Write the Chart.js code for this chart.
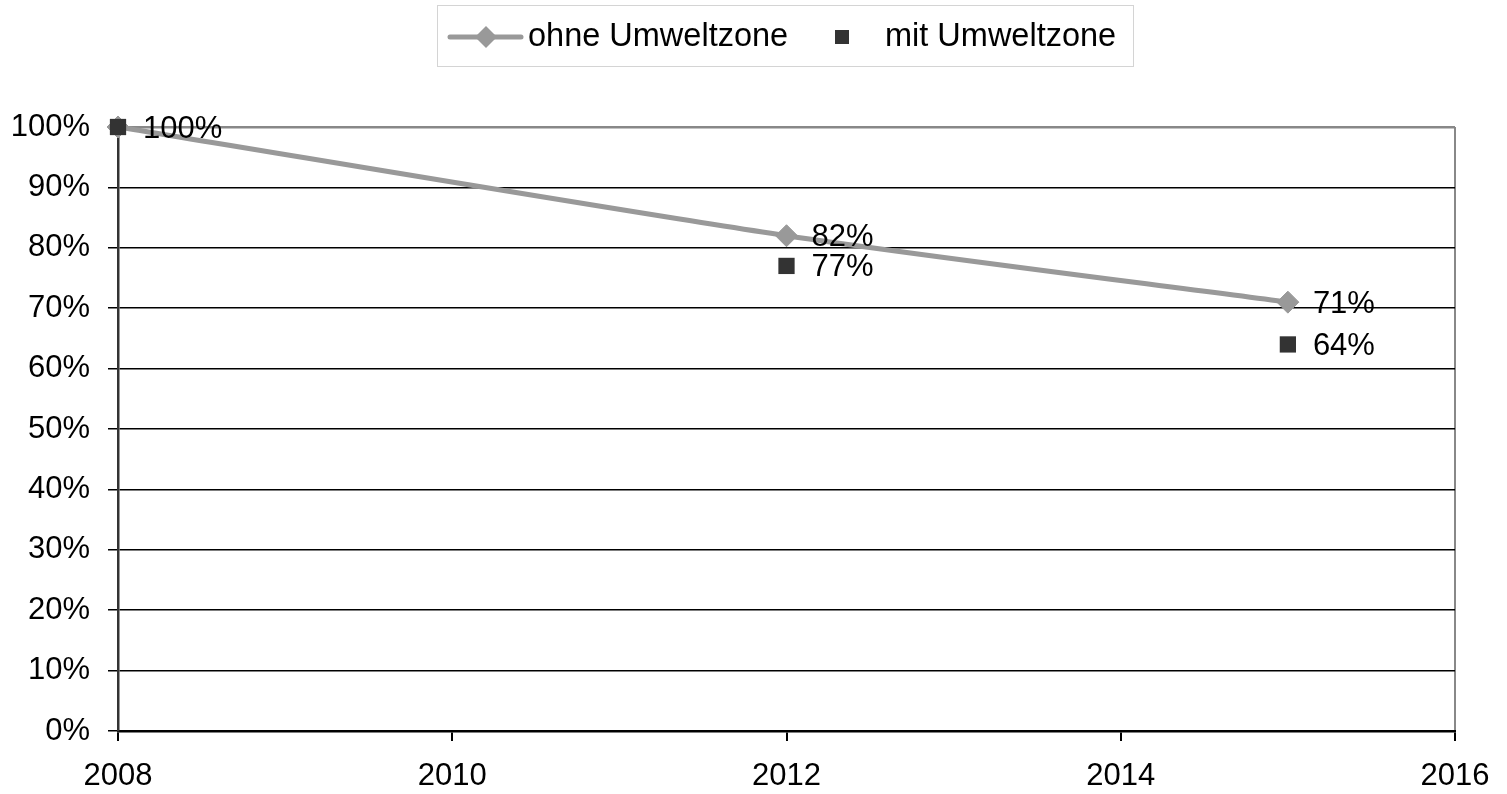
<!DOCTYPE html>
<html>
<head>
<meta charset="utf-8">
<script src="https://cdn.jsdelivr.net/npm/chart.js@4"></script>
<style>
  html, body { margin: 0; padding: 0; background: #fff; }
  #wrap { position: relative; width: 1507px; height: 794px; }
  #legend {
    position: absolute; left: 437px; top: 5px; width: 695px; height: 60px;
    border: 1.5px solid #d4d4d4; font-family: "Liberation Sans", Arial, sans-serif;
    font-size: 32.5px; color: #000;
  }
  #legend svg { position: absolute; top: 0; left: 0; }
  #legend span { position: absolute; top: 11px; white-space: nowrap; }
</style>
</head>
<body>
<div id="wrap">
  <canvas id="chart" width="1507" height="794"></canvas>
  <div id="legend">
    <svg width="695" height="60">
      <line x1="12" y1="31" x2="83" y2="31" stroke="#999" stroke-width="5" stroke-linecap="round"/>
      <polygon points="48,20 59,31 48,42 37,31" fill="#999"/>
      <rect x="397" y="24" width="14" height="14" fill="#333"/>
    </svg>
    <span style="left:90px">ohne Umweltzone</span>
    <span style="left:447px">mit Umweltzone</span>
  </div>
</div>
<script>
// data
const years = [2008, 2012, 2015];
const ohneUmweltzone = [100, 82, 71];
const mitUmweltzone = [100, 77, 64];
const xTicks = [2008, 2010, 2012, 2014, 2016];
const yTicks = [0, 10, 20, 30, 40, 50, 60, 70, 80, 90, 100];

const FONT = '"Liberation Sans", Arial, sans-serif';

// value labels right of each point
const pointLabels = {
  id: 'pointLabels',
  afterDatasetsDraw(chart) {
    const ctx = chart.ctx;
    const done = {};
    ctx.save();
    ctx.font = '31px ' + FONT;
    ctx.fillStyle = '#000';
    ctx.textAlign = 'left';
    ctx.textBaseline = 'middle';
    chart.data.datasets.forEach((ds, i) => {
      chart.getDatasetMeta(i).data.forEach((pt, j) => {
        const key = Math.round(pt.x) + '_' + Math.round(pt.y);
        if (done[key]) return;
        done[key] = true;
        ctx.fillText(ds.data[j].y + '%', pt.x + 25, pt.y + 2);
      });
    });
    ctx.restore();
  }
};

new Chart(document.getElementById('chart'), {
  type: 'scatter',
  data: {
    datasets: [
      {
        label: 'ohne Umweltzone',
        data: years.map((x, i) => ({ x: x, y: ohneUmweltzone[i] })),
        order: 2,
        showLine: true,
        clip: false,
        borderColor: '#999',
        borderWidth: 5,
        tension: 0.25,
        pointStyle: 'rectRot',
        pointRadius: 11,
        pointBackgroundColor: '#999',
        pointBorderColor: '#999',
        pointBorderWidth: 1
      },
      {
        label: 'mit Umweltzone',
        data: years.map((x, i) => ({ x: x, y: mitUmweltzone[i] })),
        order: 1,
        showLine: false,
        clip: false,
        pointStyle: 'rect',
        pointRadius: 11.5,
        pointBackgroundColor: '#333',
        pointBorderColor: '#333',
        pointBorderWidth: 0
      }
    ]
  },
  options: {
    responsive: false,
    animation: false,
    layout: { padding: { top: 127, right: 52, left: 0, bottom: 0 } },
    plugins: {
      legend: { display: false },
      tooltip: { enabled: false }
    },
    scales: {
      x: {
        type: 'linear',
        min: 2008,
        max: 2016,
        afterFit: (s) => { s.height = 63; },
        afterBuildTicks: (s) => { s.ticks = xTicks.map(v => ({ value: v })); },
        border: { color: '#000', width: 2.5 },
        grid: {
          drawOnChartArea: true,
          color: (c) => (c.tick && c.tick.value === 2016 ? '#888' : 'rgba(0,0,0,0)'),
          lineWidth: 2,
          tickColor: '#000',
          tickLength: 10
        },
        ticks: {
          color: '#000',
          font: { family: FONT, size: 31 },
          padding: 17,
          maxRotation: 0,
          callback: (v) => String(v)
        }
      },
      y: {
        min: 0,
        max: 100,
        afterFit: (s) => { s.width = 118; },
        afterBuildTicks: (s) => { s.ticks = yTicks.map(v => ({ value: v })); },
        border: { color: '#333', width: 2.5 },
        grid: {
          color: (c) => (c.tick && c.tick.value === 100 ? '#888' : '#000'),
          lineWidth: (c) => (c.tick && c.tick.value === 100 ? 2.5 : 1.5),
          tickColor: '#000',
          tickLength: 10
        },
        ticks: {
          color: '#000',
          font: { family: FONT, size: 31 },
          padding: 18,
          callback: (v) => v + '%'
        }
      }
    }
  },
  plugins: [pointLabels]
});
</script>
</body>
</html>
